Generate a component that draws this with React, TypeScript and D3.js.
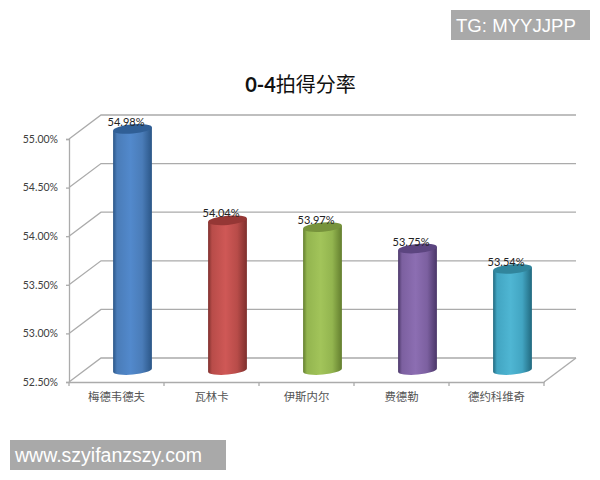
import React, { useRef, useEffect } from 'react';
import * as d3 from 'd3';

const title = '拍得分率';
const titlePrefix = '0-4';
const categories = ['梅德韦德夫', '瓦林卡', '伊斯内尔', '费德勒', '德约科维奇'];
const values = [54.98, 54.04, 53.97, 53.75, 53.54];
const yTicks = [52.5, 53, 53.5, 54, 54.5, 55];
// dark edge, mid, light, top cap
const barColors = [
  ['#2b5687', '#4a7cb8', '#5289cc', '#305f96'],
  ['#7e2f2d', '#b84c49', '#cf5856', '#953735'],
  ['#637e2e', '#93b54f', '#a2c45a', '#77933c'],
  ['#4a3668', '#7c60a0', '#8c6eb2', '#5c4580'],
  ['#21697f', '#42a5c2', '#4fb6d3', '#31859c'],
];

const App: React.FC = () => {
  const svgRef = useRef<SVGSVGElement>(null);

  useEffect(() => {
    if (!svgRef.current) return;
    const svg = d3.select(svgRef.current);
    svg.selectAll('*').remove();

    const depthX = 32;
    const depthY = -24;
    const x = d3.scaleBand<string>().domain(categories).range([69, 544]);
    const y = d3.scaleLinear().domain([52.5, 55]).range([382, 139]);
    const gridColor = '#ababab';
    const textColor = '#404040';
    const sans = 'Lato, sans-serif';
    const cjk = '"Noto Sans CJK SC", sans-serif';

    // Gradients
    const defs = svg.append('defs');
    barColors.forEach((c, i) => {
      const g = defs.append('linearGradient').attr('id', `bar${i}`);
      g.append('stop').attr('offset', '0%').attr('stop-color', c[0]);
      g.append('stop').attr('offset', '10%').attr('stop-color', c[1]);
      g.append('stop').attr('offset', '45%').attr('stop-color', c[2]);
      g.append('stop').attr('offset', '75%').attr('stop-color', c[1]);
      g.append('stop').attr('offset', '100%').attr('stop-color', c[0]);
    });

    // Back wall gridlines and floor/side connectors
    yTicks.forEach(t => {
      const path = d3.path();
      path.moveTo(69, y(t));
      path.lineTo(69 + depthX, y(t) + depthY);
      path.lineTo(544 + depthX, y(t) + depthY);
      svg.append('path').attr('d', path.toString())
        .attr('fill', 'none').attr('stroke', gridColor).attr('stroke-width', 1.3);
    });
    svg.append('path')
      .attr('d', `M544,${y(52.5)}L${544 + depthX},${y(52.5) + depthY}`)
      .attr('stroke', gridColor).attr('stroke-width', 1.3);

    // Y axis
    const yAxis = d3.axisLeft(y)
      .tickValues(yTicks)
      .tickFormat(d => `${d3.format('.2f')(d.valueOf())}%`)
      .tickSize(3)
      .tickPadding(8);
    const yG = svg.append('g').attr('transform', 'translate(69,0)').call(yAxis);
    yG.selectAll('line,path').attr('stroke', gridColor).attr('stroke-width', 1.3);
    yG.selectAll('text')
      .attr('font-family', sans).attr('font-size', 10.5).attr('fill', textColor);

    // X axis
    const xAxis = d3.axisBottom(x).tickSize(0).tickPadding(11);
    const xG = svg.append('g').attr('transform', `translate(0,${y(52.5)})`).call(xAxis);
    xG.select('.domain').attr('stroke', gridColor).attr('stroke-width', 1.3);
    xG.selectAll('text')
      .attr('font-family', cjk).attr('font-size', 11.4).attr('fill', '#555');
    [...categories.map(c => x(c) as number), 544].forEach(tx => {
      svg.append('line')
        .attr('x1', tx).attr('x2', tx)
        .attr('y1', y(52.5)).attr('y2', y(52.5) + 4)
        .attr('stroke', gridColor).attr('stroke-width', 1.3);
    });

    // Cylinders
    const rx = x.bandwidth() * 0.205;
    const ry = 4.6;
    const tilt = -5;
    const dx = rx * Math.cos((tilt * Math.PI) / 180);
    const dy = rx * Math.sin((tilt * Math.PI) / 180);

    categories.forEach((cat, i) => {
      const cx = (x(cat) as number) + x.bandwidth() / 2 + depthX / 2;
      const base = y(52.5) + depthY / 2;
      const top = y(values[i]) + depthY / 2;

      svg.append('path')
        .attr('d', `M${cx - dx},${top - dy}L${cx - dx},${base - dy}`
          + `A${rx},${ry} ${tilt} 0 0 ${cx + dx},${base + dy}`
          + `L${cx + dx},${top + dy}Z`)
        .attr('fill', `url(#bar${i})`);

      svg.append('ellipse')
        .attr('rx', rx).attr('ry', ry)
        .attr('transform', `translate(${cx},${top}) rotate(${tilt})`)
        .attr('fill', barColors[i][3]);

      svg.append('text')
        .attr('x', cx - 6.5)
        .attr('y', top - 3)
        .attr('text-anchor', 'middle')
        .attr('font-family', sans).attr('font-size', 11)
        .attr('fill', '#222')
        .text(`${d3.format('.2f')(values[i])}%`);
    });

    // Title
    const titleText = svg.append('text')
      .attr('x', 300.5).attr('y', 92)
      .attr('text-anchor', 'middle')
      .attr('font-size', 20)
      .attr('fill', '#111');
    titleText.append('tspan')
      .attr('font-family', sans).attr('font-weight', 'bold').text(titlePrefix);
    titleText.append('tspan')
      .attr('font-family', cjk).text(title);

    // Watermarks
    const marks = [
      { text: 'TG: MYYJJPP', x0: 451, y0: 10, w: 139, h: 30, size: 18.6 },
      { text: 'www.szyifanzszy.com', x0: 10, y0: 440, w: 216, h: 30, size: 19.5 },
    ];
    marks.forEach(m => {
      svg.append('rect')
        .attr('x', m.x0).attr('y', m.y0).attr('width', m.w).attr('height', m.h)
        .attr('fill', '#a9a9a9');
      svg.append('text')
        .attr('x', m.x0 + 5).attr('y', m.y0 + m.h / 2 + 6.5)
        .attr('font-family', '"Liberation Sans", sans-serif')
        .attr('font-size', m.size)
        .attr('fill', '#fff')
        .text(m.text);
    });
  }, []);

  return (
    <svg
      ref={svgRef}
      width={600}
      height={480}
      style={{ position: 'absolute', left: 0, top: 0, background: '#fff' }}
    />
  );
};

export default App;
